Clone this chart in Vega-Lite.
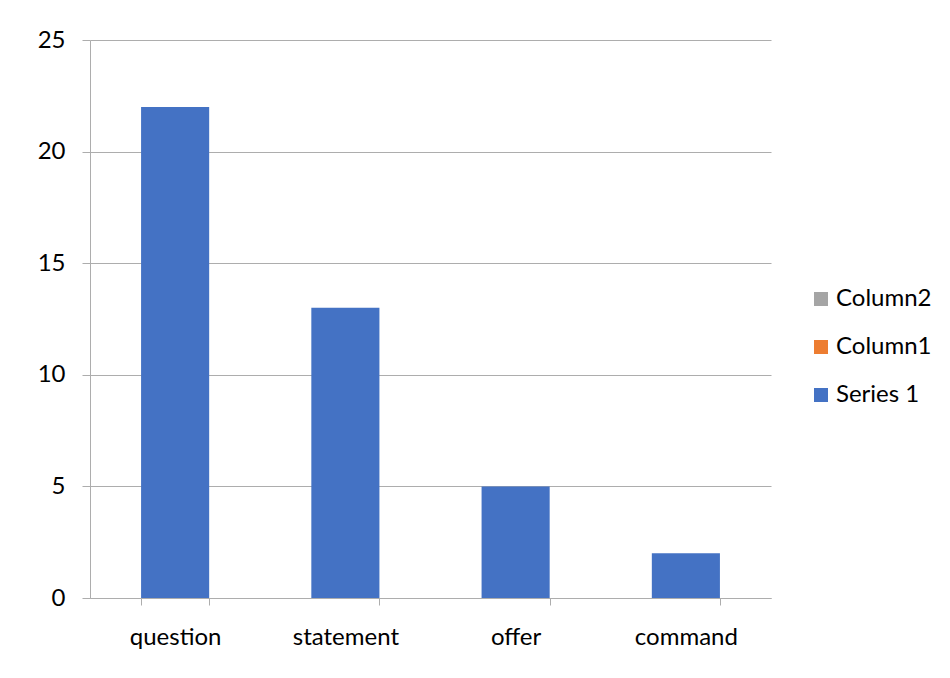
{
  "$schema": "https://vega.github.io/schema/vega-lite/v6.json",
  "autosize": "none",
  "padding": {"left": 90, "top": 40, "right": 179, "bottom": 80},
  "width": 681,
  "height": 558,
  "background": "white",
  "config": {
    "view": {"stroke": null},
    "font": "Lato",
    "axis": {"labelFont": "Lato", "labelColor": "#000000", "labelFontSize": 24, "gridColor": "#ADADAD", "domainColor": "#ADADAD", "tickColor": "#ADADAD"}
  },
  "data": {
    "values": [
      {"category": "question", "value": 22, "series": "Series 1"},
      {"category": "statement", "value": 13, "series": "Series 1"},
      {"category": "offer", "value": 5, "series": "Series 1"},
      {"category": "command", "value": 2, "series": "Series 1"}
    ]
  },
  "mark": {"type": "bar"},
  "encoding": {
    "x": {
      "field": "category", "type": "nominal", "sort": null,
      "scale": {"paddingInner": 0.6, "paddingOuter": 0.3},
      "axis": {"title": null, "labelAngle": 0, "tickBand": "extent", "tickSize": 7, "labelPadding": 20, "grid": false}
    },
    "y": {
      "field": "value", "type": "quantitative",
      "scale": {"domain": [0, 25]},
      "axis": {"title": null, "values": [0, 5, 10, 15, 20, 25], "tickSize": 8, "labelPadding": 17, "grid": true}
    },
    "color": {
      "field": "series", "type": "nominal",
      "scale": {"domain": ["Column2", "Column1", "Series 1"], "range": ["#A5A5A5", "#ED7D31", "#4472C4"]},
      "legend": {"title": null, "orient": "none", "legendX": 719, "legendY": 247, "symbolType": "square", "symbolSize": 196, "symbolStrokeWidth": 0, "labelFontSize": 24, "labelFont": "Lato", "labelColor": "#000000", "rowPadding": 24, "labelOffset": 3}
    }
  }
}
